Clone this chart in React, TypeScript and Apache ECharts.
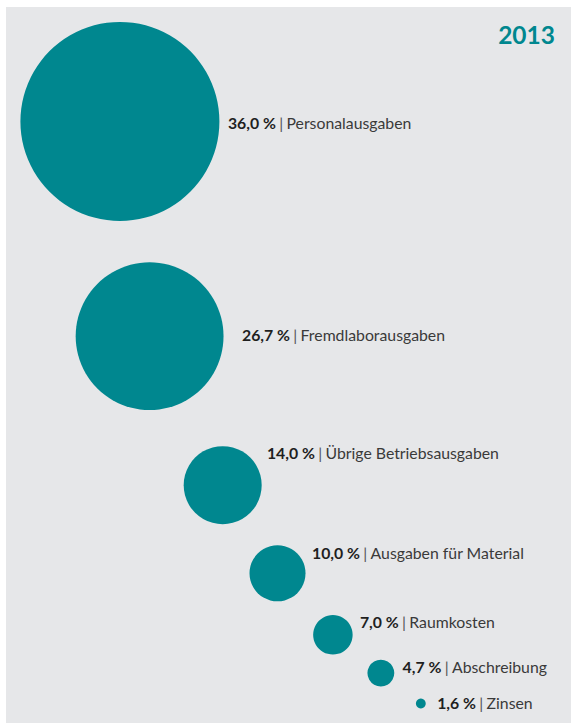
import React, { useEffect, useRef } from "react";
import * as echarts from "echarts";

// Data
const categories = [
  "Personalausgaben",
  "Fremdlaborausgaben",
  "Übrige Betriebsausgaben",
  "Ausgaben für Material",
  "Raumkosten",
  "Abschreibung",
  "Zinsen",
];
const shares = [36.0, 26.7, 14.0, 10.0, 7.0, 4.7, 1.6];
const yearLabel = "2013";

// Layout (bubble placement on a 0–100 grid, label shifts in px)
const layoutX = [21.0, 26.2, 39.0, 48.6, 58.3, 66.7, 73.7];
const layoutY = [16.8, 46.5, 67.1, 79.3, 87.8, 93.1, 97.3];
const labelShift = [
  [0.5, 1.5],
  [10.5, -1.5],
  [-2.8, -32.3],
  [-1.5, -21],
  [-0.75, -13],
  [0.3, -7],
  [3.4, -0.6],
];

const TEAL = "#00878f";
const FONT = "Lato";
const LABEL_SIZE = 15.8;

const fmt = (v: number) => v.toFixed(1).replace(".", ",") + " %";

export default function App() {
  const ref = useRef<HTMLDivElement>(null);
  useEffect(() => {
    document.body.style.margin = "0";
    const chart = echarts.init(ref.current!, null, { renderer: "svg" });
    const data = shares.map((v, i) => ({
      name: categories[i],
      value: [layoutX[i], layoutY[i], v],
      label: { offset: labelShift[i] },
    }));
    chart.setOption({
      animation: false,
      backgroundColor: "#ffffff",
      graphic: [
        {
          type: "rect",
          silent: true,
          z: -10,
          shape: { x: 6, y: 7, width: 565, height: 716 },
          style: { fill: "#e6e7e9" },
        },
      ],
      title: {
        text: yearLabel,
        right: 11,
        top: 17,
        textStyle: { color: TEAL, fontFamily: FONT, fontWeight: "bold", fontSize: 24.5 },
      },
      grid: { left: 0, right: 0, top: 0, bottom: 0 },
      xAxis: { type: "value", min: 0, max: 100, show: false },
      yAxis: { type: "value", min: 0, max: 100, inverse: true, show: false },
      series: [
        {
          type: "scatter",
          clip: false,
          symbol: "circle",
          symbolSize: (val: number[]) => val[2] * 5.5 + 1,
          itemStyle: { color: TEAL, opacity: 1 },
          data,
          label: {
            show: true,
            position: "right",
            distance: 8,
            formatter: (p: any) => `{b|${fmt(p.value[2])}} {s||} {n|${p.name}}`,
            rich: {
              b: { fontFamily: FONT, fontWeight: "bold", fontSize: LABEL_SIZE, color: "#1f1f1f" },
              s: { fontFamily: FONT, fontSize: LABEL_SIZE, color: "#555555" },
              n: { fontFamily: FONT, fontSize: LABEL_SIZE, color: "#3a3a3a" },
            },
          },
          emphasis: { disabled: true },
        },
      ],
    });
    return () => chart.dispose();
  }, []);
  return <div ref={ref} style={{ width: 571, height: 723 }} />;
}
